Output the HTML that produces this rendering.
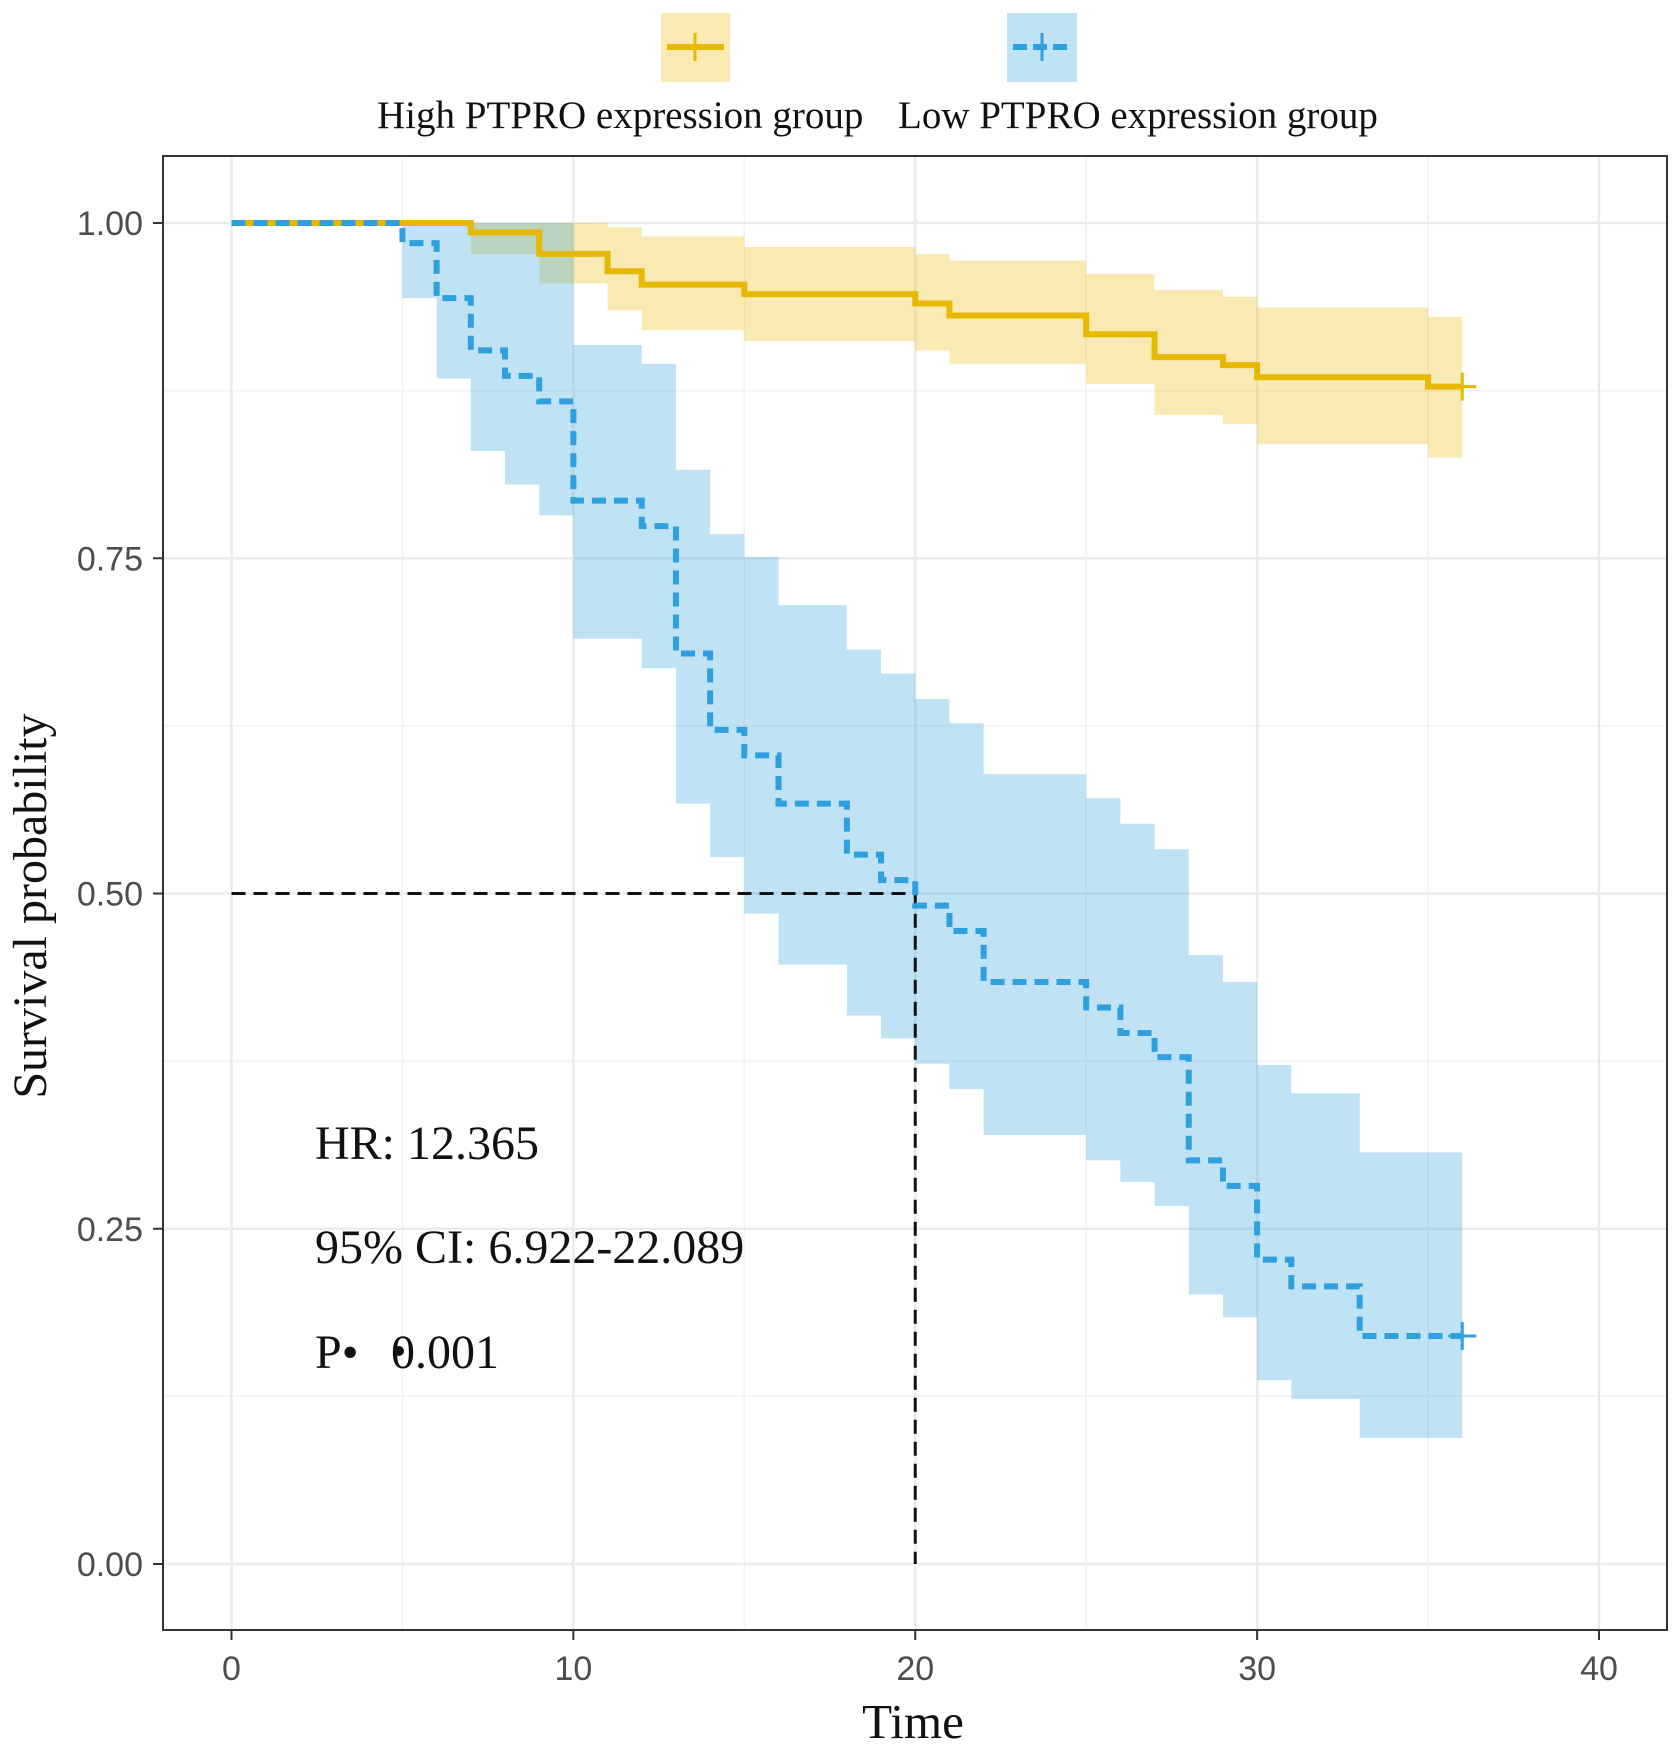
<!DOCTYPE html>
<html><head><meta charset="utf-8"><style>
html,body{margin:0;padding:0;background:#fff;}
svg{display:block;}
</style></head><body>
<svg id="chart" width="1677" height="1746" viewBox="0 0 1677 1746" xmlns="http://www.w3.org/2000/svg">
<g id="grid"></g>
<g id="bands"></g>
<g id="median"></g>
<g id="lines"></g>
<rect x="163" y="156" width="1504" height="1474" fill="none" stroke="#333" stroke-width="2"/>
<g id="axes"></g>
<g font-family="'Liberation Serif', serif" font-size="48" fill="#111">
<text x="315" y="1159">HR: 12.365</text>
<text x="315" y="1263">95% CI: 6.922-22.089</text>
<text x="315" y="1368">P•</text>
<text x="391" y="1368">0.001</text>
<circle cx="399" cy="1351" r="5" fill="#111"/>
</g>
<g>
<rect x="661" y="13" width="69" height="69" fill="#E7B800" fill-opacity="0.3"/>
<line x1="667" y1="47" x2="724" y2="47" stroke="#E7B800" stroke-width="6"/>
<line x1="695" y1="33" x2="695" y2="61" stroke="#E7B800" stroke-width="3"/>
<rect x="1007" y="13" width="70" height="69" fill="#2E9FDF" fill-opacity="0.3"/>
<line x1="1013" y1="47" x2="1071" y2="47" stroke="#2E9FDF" stroke-width="6" stroke-dasharray="14 6"/>
<line x1="1042" y1="33" x2="1042" y2="61" stroke="#2E9FDF" stroke-width="3"/>
<text x="377" y="128" font-family="'Liberation Serif', serif" font-size="39" fill="#111">High PTPRO expression group</text>
<text x="898" y="128" font-family="'Liberation Serif', serif" font-size="39" fill="#111">Low PTPRO expression group</text>
</g>
<text x="913" y="1738" text-anchor="middle" font-family="'Liberation Serif', serif" font-size="49" fill="#111">Time</text>
<text transform="translate(46,906) rotate(-90)" text-anchor="middle" font-family="'Liberation Serif', serif" font-size="48" fill="#111">Survival probability</text>
</svg>
<script>
const xTicks=[0,10,20,30,40];
const yTicks=[0,0.25,0.5,0.75,1];
const yTickLabels=["0.00","0.25","0.50","0.75","1.00"];
const highTimes=[0,7,9,11,12,15,20,21,25,27,29,30,35,36];
const highSurv=[1,0.993,0.977,0.964,0.954,0.947,0.940,0.931,0.917,0.900,0.894,0.885,0.878,0.878];
const highUpper=[1,1,1,0.997,0.99,0.982,0.977,0.972,0.962,0.95,0.945,0.937,0.93,0.93];
const highLower=[1,0.977,0.955,0.935,0.92,0.912,0.905,0.895,0.88,0.857,0.85,0.835,0.825,0.825];
const lowTimes=[0,5,6,7,8,9,10,12,13,14,15,16,18,19,20,21,22,25,26,27,28,29,30,31,33,36];
const lowSurv=[1,0.985,0.944,0.905,0.886,0.867,0.793,0.774,0.679,0.622,0.603,0.567,0.529,0.51,0.491,0.472,0.434,0.415,0.396,0.378,0.301,0.282,0.227,0.207,0.17,0.17];
const lowUpper=[1,1,1,1,1,1,0.909,0.895,0.816,0.768,0.751,0.715,0.682,0.664,0.645,0.627,0.589,0.571,0.552,0.533,0.454,0.434,0.372,0.351,0.307,0.307];
const lowLower=[1,0.944,0.884,0.83,0.805,0.782,0.69,0.668,0.567,0.527,0.485,0.447,0.409,0.392,0.373,0.354,0.32,0.301,0.285,0.267,0.201,0.184,0.137,0.123,0.094,0.094];
const medianTime=20, medianSurv=0.5;

const NS="http://www.w3.org/2000/svg";
const X=t=>231.5+t*(1599-231.5)/40;
const Y=p=>1564-p*(1564-223);
function mk(tag,attrs,parent){const e=document.createElementNS(NS,tag);for(const k in attrs)e.setAttribute(k,attrs[k]);parent.appendChild(e);return e;}
const grid=document.getElementById('grid'),bands=document.getElementById('bands'),lines=document.getElementById('lines'),axes=document.getElementById('axes'),med=document.getElementById('median');
for(let i=0;i<xTicks.length-1;i++){const t=(xTicks[i]+xTicks[i+1])/2;const l=mk('line',{x1:X(t),x2:X(t),y1:157,y2:1629,stroke:'#f2f2f2','stroke-width':1.5},grid);
}
for(let i=0;i<yTicks.length-1;i++){const p=(yTicks[i]+yTicks[i+1])/2;const l=mk('line',{x1:164,x2:1666,y1:Y(p),y2:Y(p),stroke:'#f2f2f2','stroke-width':1.5},grid);
}
xTicks.forEach(t=>{const l=mk('line',{x1:X(t),x2:X(t),y1:157,y2:1629,stroke:'#ebebeb','stroke-width':2.5},grid);

const tk=mk('line',{x1:X(t),x2:X(t),y1:1630,y2:1640,stroke:'#333','stroke-width':2},axes);

const tx=mk('text',{x:X(t),y:1680,'text-anchor':'middle','font-family':"'Liberation Sans', sans-serif",'font-size':34,fill:'#4d4d4d'},axes);tx.textContent=t;
});
yTicks.forEach((p,i)=>{const l=mk('line',{x1:164,x2:1666,y1:Y(p),y2:Y(p),stroke:'#ebebeb','stroke-width':2.5},grid);

const tk=mk('line',{x1:153,x2:163,y1:Y(p),y2:Y(p),stroke:'#333','stroke-width':2},axes);

const tx=mk('text',{x:143,y:Y(p)+12,'text-anchor':'end','font-family':"'Liberation Sans', sans-serif",'font-size':34,fill:'#4d4d4d'},axes);tx.textContent=yTickLabels[i];
});
function band(times,up,lo,color,name){const n=times.length-1;let d='M'+X(times[0])+','+Y(up[0]);
for(let i=1;i<=n;i++){d+='H'+X(times[i])+'V'+Y(up[i]);}
d+='V'+Y(lo[n]);
for(let i=n;i>=1;i--){d+='V'+Y(lo[i-1])+'H'+X(times[i-1]);}
d+='Z';const p=mk('path',{d:d,fill:color,'fill-opacity':0.3},bands);
}
function step(times,s,color,dash,name){let d='M'+X(times[0])+','+Y(s[0]);
for(let i=1;i<times.length;i++){d+='H'+X(times[i])+'V'+Y(s[i]);}
const a={d:d,fill:'none',stroke:color,'stroke-width':6};if(dash)a['stroke-dasharray']=dash;
const p=mk('path',a,lines);
const n=times.length-1,cx=X(times[n]),cy=Y(s[n]);
const c1=mk('line',{x1:cx-14,x2:cx+14,y1:cy,y2:cy,stroke:color,'stroke-width':3},lines);

const c2=mk('line',{x1:cx,x2:cx,y1:cy-14,y2:cy+14,stroke:color,'stroke-width':3},lines);
}
band(highTimes,highUpper,highLower,'#E7B800','high-ci-band');
band(lowTimes,lowUpper,lowLower,'#2E9FDF','low-ci-band');
const m1=mk('path',{d:'M'+X(0)+','+Y(medianSurv)+'H'+X(medianTime)+'V'+Y(0),fill:'none',stroke:'#111','stroke-width':3,'stroke-dasharray':'14 8'},med);

step(highTimes,highSurv,'#E7B800',null,'high-curve');
step(lowTimes,lowSurv,'#2E9FDF','14 8','low-curve');
</script>
</body></html>
